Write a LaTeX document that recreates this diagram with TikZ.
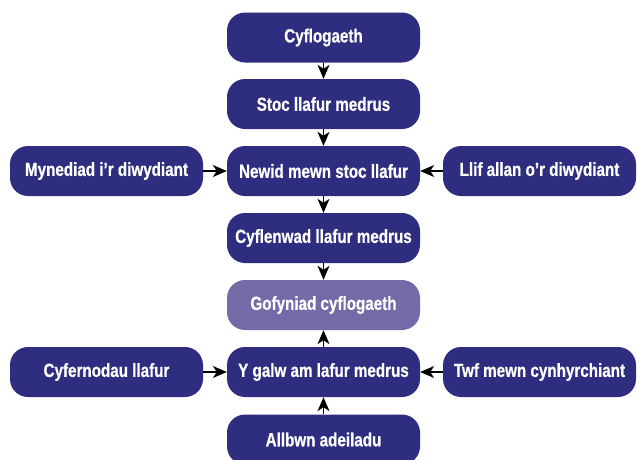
\documentclass[tikz,border=0pt]{standalone}
\usepackage{fontspec}
\setmainfont{Liberation Sans}[FakeStretch=0.8,BoldFeatures={FakeBold=0.6}]
\usetikzlibrary{arrows.meta}
\definecolor{boxdark}{RGB}{46,45,128}
\definecolor{boxlight}{RGB}{115,106,168}
\tikzset{
  box/.style={fill=boxdark, rounded corners=18pt, minimum width=193pt, minimum height=50pt,
    inner sep=0pt, text=white, font=\bfseries\fontsize{19}{21}\selectfont},
  lightbox/.style={box, fill=boxlight},
  conn/.style={-{Stealth[length=14pt,width=12pt,inset=4pt]}, line width=1.1pt, black}
}
\begin{document}
\begin{tikzpicture}[x=1pt,y=-1pt]
\useasboundingbox (0,0) rectangle (637,459);
\clip (0,0) rectangle (637,459);
\node[box] (c1) at (323.5,37.5) {Cyflogaeth};
\node[box] (c2) at (323.5,104) {Stoc llafur medrus};
\node[box] (c3) at (323.5,171) {Newid mewn stoc llafur};
\node[box] (c4) at (323.5,238) {Cyflenwad llafur medrus};
\node[lightbox] (c5) at (323.5,305) {Gofyniad cyflogaeth};
\node[box] (c6) at (323.5,372) {Y galw am lafur medrus};
\node[box] (c7) at (323.5,439.5) {Allbwn adeiladu};
\node[box] (l1) at (106.5,171) {Mynediad i’r diwydiant};
\node[box] (r1) at (539.5,171) {Llif allan o’r diwydiant};
\node[box] (l2) at (106.5,372) {Cyfernodau llafur};
\node[box] (r2) at (539.5,372) {Twf mewn cynhyrchiant};
\draw[conn] (c1) -- (c2);
\draw[conn] (c2) -- (c3);
\draw[conn] (c3) -- (c4);
\draw[conn] (c4) -- (c5);
\draw[conn] (c6) -- (c5);
\draw[conn] (c7) -- (c6);
\draw[conn] (l1) -- (c3);
\draw[conn] (r1) -- (c3);
\draw[conn] (l2) -- (c6);
\draw[conn] (r2) -- (c6);
\end{tikzpicture}
\end{document}
